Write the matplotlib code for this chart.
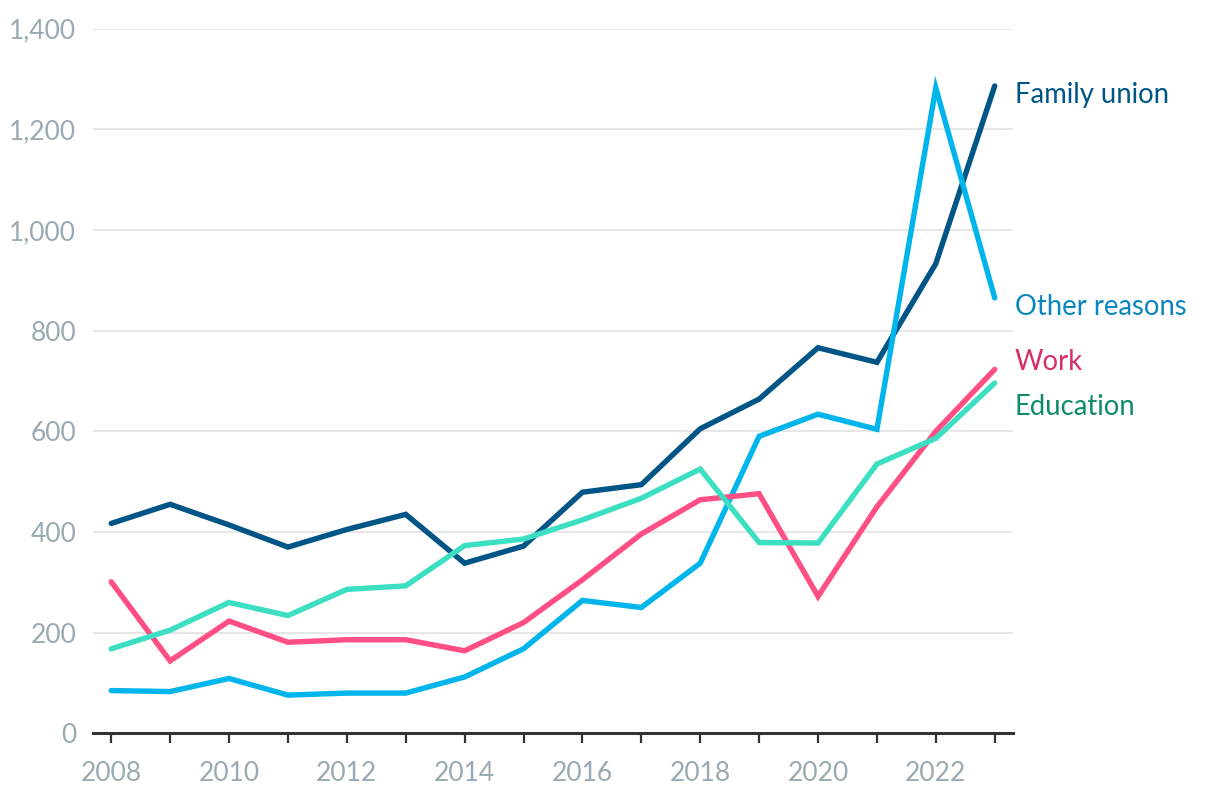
import numpy as np
import matplotlib.pyplot as plt
from matplotlib.ticker import FuncFormatter, MultipleLocator

years = list(range(2008, 2024))

family_union = [417, 455, 414, 370, 405, 435, 338, 372, 479, 494, 605, 664, 766, 737, 933, 1286]
other_reasons = [85, 83, 109, 76, 80, 80, 112, 168, 264, 250, 338, 590, 634, 604, 1282, 865]
work = [301, 144, 223, 181, 186, 186, 164, 220, 305, 396, 464, 476, 272, 450, 600, 723]
education = [168, 205, 260, 234, 286, 293, 373, 386, 424, 467, 525, 379, 378, 535, 586, 696]

series = [
    ('Family union', family_union, '#005587', '#005587', 1268),
    ('Other reasons', other_reasons, '#00b5ec', '#0a86bf', 846),
    ('Work', work, '#ff4f85', '#d92f68', 738),
    ('Education', education, '#3ddfc2', '#0e8a6c', 648),
]

plt.rcParams['font.family'] = ['Lato', 'DejaVu Sans']

fig = plt.figure(figsize=(12.2, 8), dpi=100, facecolor='white')
ax = fig.add_axes([0.0762, 0.0833, 0.7541, 0.881])

for name, vals, col, tcol, ylab in series:
    ax.plot(years, vals, color=col, lw=3.9, solid_capstyle='round',
            solid_joinstyle='miter', clip_on=False, zorder=3)
    ax.text(2023.34, ylab, name, color=tcol, fontsize=19.8, va='center', ha='left')

ax.set_xlim(2007.69, 2023.31)
ax.set_ylim(0, 1400)
ax.yaxis.set_major_locator(MultipleLocator(200))
ax.yaxis.set_major_formatter(FuncFormatter(lambda v, p: f'{int(v):,}'))
ax.xaxis.set_major_locator(MultipleLocator(2))
ax.xaxis.set_minor_locator(MultipleLocator(1))
ax.xaxis.set_major_formatter(FuncFormatter(lambda v, p: f'{int(v)}'))

ax.grid(axis='y', color='#e5e5e5', lw=1.3)
ax.set_axisbelow(True)
for s in ['top', 'right', 'left']:
    ax.spines[s].set_visible(False)
ax.spines['bottom'].set_color('#333333')
ax.spines['bottom'].set_linewidth(2.2)
ax.spines['bottom'].set_zorder(4)

ax.tick_params(axis='y', length=0, pad=12, labelsize=19, labelcolor='#9aa9b2')
ax.tick_params(axis='x', which='both', length=7, width=1.6, color='#333333',
               direction='out', pad=13, labelsize=19, labelcolor='#9aa9b2')

plt.savefig('out.png', dpi=100, facecolor='white')
